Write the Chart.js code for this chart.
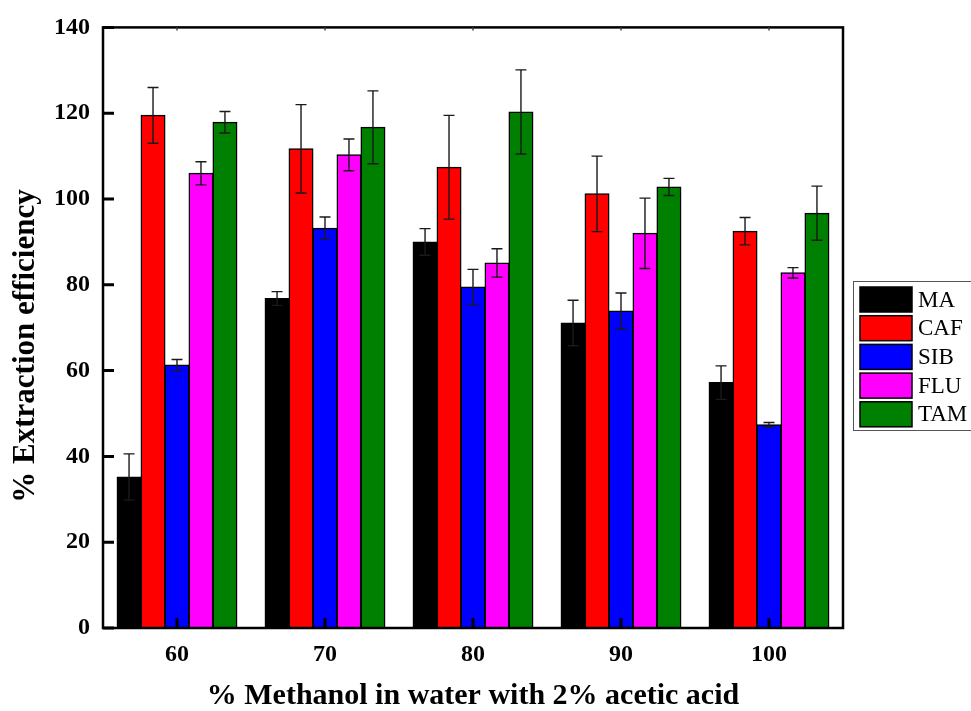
<!DOCTYPE html>
<html>
<head>
<meta charset="utf-8">
<script src="https://cdn.jsdelivr.net/npm/chart.js@4/dist/chart.umd.min.js"></script>
<style>
  html, body { margin: 0; padding: 0; background: #fff; }
  #wrap { width: 971px; height: 711px; }
</style>
</head>
<body>
<div id="wrap"><canvas id="effChart" width="971" height="711"></canvas></div>
<script>
// methanol content of the extraction solvent
const categories = ['60', '70', '80', '90', '100'];

// mean extraction efficiency and error for each analyte
const maValues  = [35.2, 76.8, 90.0, 71.1, 57.2];
const maErrors  = [5.4, 1.6, 3.1, 5.3, 3.9];
const cafValues = [119.5, 111.7, 107.4, 101.2, 92.5];
const cafErrors = [6.5, 10.3, 12.1, 8.8, 3.2];
const sibValues = [61.3, 93.2, 79.5, 73.9, 47.4];
const sibErrors = [1.3, 2.6, 4.1, 4.2, 0.5];
const fluValues = [106.0, 110.3, 85.1, 92.0, 82.8];
const fluErrors = [2.7, 3.7, 3.3, 8.2, 1.2];
const tamValues = [117.9, 116.7, 120.3, 102.8, 96.7];
const tamErrors = [2.5, 8.5, 9.8, 2.0, 6.3];

const yTicks = [0, 20, 40, 60, 80, 100, 120, 140];
const yTitle = '% Extraction efficiency';

const serif = "'Liberation Serif', 'Times New Roman', serif";

function series(label, data, errors, color) {
    return {
        label,
        data,
        errors,
        backgroundColor: color,
        borderColor: '#000',
        borderWidth: 1.5,
        borderSkipped: false,
        inflateAmount: 0.5,
        categoryPercentage: 0.81,
        barPercentage: 1.0
    };
}

// error bars drawn over the bars
const errorBars = {
    id: 'errorBars',
    afterDatasetsDraw(chart) {
        const ctx = chart.ctx;
        const y = chart.scales.y;
        ctx.save();
        ctx.strokeStyle = '#1a1a1a';
        ctx.lineWidth = 1.4;
        chart.data.datasets.forEach((ds, i) => {
            const meta = chart.getDatasetMeta(i);
            meta.data.forEach((bar, j) => {
                const v = ds.data[j], e = ds.errors[j];
                const top = y.getPixelForValue(v + e);
                const bot = y.getPixelForValue(v - e);
                const x = bar.x;
                ctx.beginPath();
                ctx.moveTo(x, top); ctx.lineTo(x, bot);
                ctx.moveTo(x - 5.5, top); ctx.lineTo(x + 5.5, top);
                ctx.moveTo(x - 5.5, bot); ctx.lineTo(x + 5.5, bot);
                ctx.stroke();
            });
        });
        ctx.restore();
    }
};

// frame, inward ticks, y title and the boxed legend
const frame = {
    id: 'frame',
    afterDraw(chart) {
        const ctx = chart.ctx;
        const a = chart.chartArea;
        const x = chart.scales.x, y = chart.scales.y;
        ctx.save();
        ctx.strokeStyle = '#000';
        ctx.lineWidth = 2.5;
        ctx.strokeRect(a.left, a.top, a.right - a.left, a.bottom - a.top);

        ctx.lineWidth = 3;
        ctx.beginPath();
        yTicks.forEach(t => {
            const py = y.getPixelForValue(t);
            ctx.moveTo(a.left, py); ctx.lineTo(a.left + 11, py);
        });
        categories.forEach((c, i) => {
            const px = x.getPixelForValue(i);
            ctx.moveTo(px, a.bottom); ctx.lineTo(px, a.bottom - 10);
        });
        ctx.stroke();

        ctx.lineWidth = 1.5;
        ctx.strokeStyle = '#444';
        ctx.beginPath();
        categories.forEach((c, i) => {
            const px = x.getPixelForValue(i);
            ctx.moveTo(px, a.top); ctx.lineTo(px, a.top + 3);
        });
        ctx.stroke();

        // y axis title, sitting a little below the plot middle
        ctx.save();
        ctx.translate(26, 346);
        ctx.rotate(-Math.PI / 2);
        ctx.font = 'bold 31px ' + serif;
        ctx.fillStyle = '#000';
        ctx.textAlign = 'center';
        ctx.textBaseline = 'middle';
        ctx.fillText(yTitle, 0, 0);
        ctx.restore();

        // legend
        const lx = 853, ly = 281, rowH = 28.7;
        ctx.lineWidth = 1;
        ctx.strokeStyle = '#555';
        ctx.strokeRect(lx + 0.5, ly + 0.5, 125, 149);
        ctx.font = '23px ' + serif;
        ctx.textBaseline = 'middle';
        ctx.textAlign = 'left';
        chart.data.datasets.forEach((ds, i) => {
            const sy = ly + 6 + i * rowH;
            ctx.fillStyle = ds.backgroundColor;
            ctx.fillRect(860, sy, 52, 25);
            ctx.strokeStyle = '#000';
            ctx.lineWidth = 1.5;
            ctx.strokeRect(860, sy, 52, 25);
            ctx.fillStyle = '#000';
            ctx.fillText(ds.label, 918, sy + 13.5);
        });
        ctx.restore();
    }
};

new Chart(document.getElementById('effChart'), {
    type: 'bar',
    data: {
        labels: categories,
        datasets: [
            series('MA', maValues, maErrors, '#000000'),
            series('CAF', cafValues, cafErrors, '#ff0000'),
            series('SIB', sibValues, sibErrors, '#0000ff'),
            series('FLU', fluValues, fluErrors, '#ff00ff'),
            series('TAM', tamValues, tamErrors, '#008000')
        ]
    },
    options: {
        responsive: false,
        animation: false,
        layout: { padding: { top: 26, right: 128, left: 0, bottom: 0 } },
        plugins: { legend: { display: false }, tooltip: { enabled: false } },
        scales: {
            x: {
                grid: { display: false, drawTicks: false },
                border: { display: false },
                ticks: {
                    color: '#000',
                    padding: 12,
                    font: { family: serif, size: 24, weight: 'bold' }
                },
                title: {
                    display: true,
                    text: '% Methanol in water with 2% acetic acid',
                    color: '#000',
                    font: { family: serif, size: 30, weight: 'bold', lineHeight: 1 },
                    padding: { top: 0, bottom: 0 }
                },
                afterFit: (scale) => { scale.height = 83; }
            },
            y: {
                min: 0,
                max: 140,
                grid: { display: false, drawTicks: false },
                border: { display: false },
                afterBuildTicks: (scale) => { scale.ticks = yTicks.map(v => ({ value: v })); },
                ticks: {
                    color: '#000',
                    padding: 13,
                    font: { family: serif, size: 24, weight: 'bold' }
                },
                afterFit: (scale) => { scale.width = 103; }
            }
        }
    },
    plugins: [errorBars, frame]
});
</script>
</body>
</html>
